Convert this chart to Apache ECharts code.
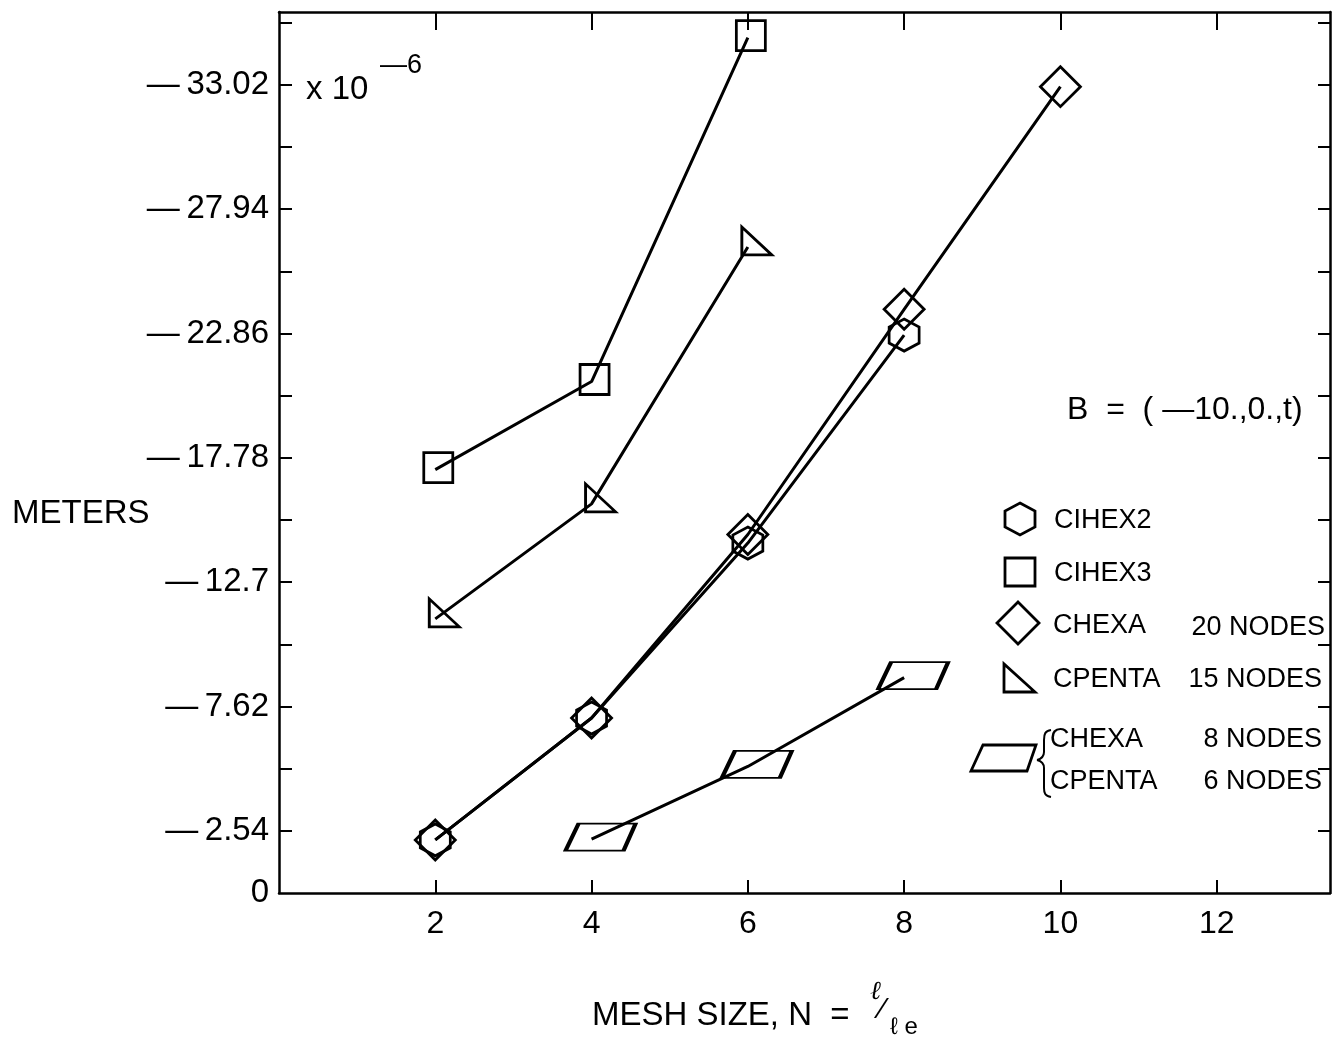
<!DOCTYPE html>
<html>
<head>
<meta charset="utf-8">
<script src="https://cdn.jsdelivr.net/npm/echarts@6/dist/echarts.min.js"></script>
<style>
  html, body { margin: 0; padding: 0; background: #fff; }
  #chart { width: 1332px; height: 1043px; }
</style>
</head>
<body>
<div id="chart"></div>
<script>
// mesh size N and deflection magnitude (x 10^-6 m)
const cihex2X = [2, 4, 6, 8];
const cihex2Y = [2.17, 7.15, 14.3, 22.8];
const cihex3X = [2, 4, 6];
const cihex3Y = [17.3, 20.9, 34.95];
const chexa20X = [2, 4, 6, 8, 10];
const chexa20Y = [2.17, 7.15, 14.65, 23.85, 32.95];
const cpenta15X = [2, 4, 6];
const cpenta15Y = [11.2, 15.9, 26.4];
const lowOrderX = [4, 6, 8];
const lowOrderY = [2.2, 5.17, 8.8];

const xTicks = [2, 4, 6, 8, 10, 12];
const yTicks = [2.54, 5.08, 7.62, 10.16, 12.7, 15.24, 17.78, 20.32, 22.86, 25.4, 27.94, 30.48, 33.02, 35.56];
const yLabelValues = [0, 2.54, 7.62, 12.7, 17.78, 22.86, 27.94, 33.02];
const yLabelTexts = ['0', '—\u20092.54', '—\u20097.62', '—\u200912.7', '—\u200917.78', '—\u200922.86', '—\u200927.94', '—\u200933.02'];

const FONT = '"Liberation Sans", Arial, Helvetica, sans-serif';

function pairs(xs, ys) {
  let res = [];
  xs.forEach(function (x, i) {
    res.push([x, ys[i]]);
  });
  return res;
}

const sym = {
  hexagon: 'path://M15,0 L30,8 L30,24 L15,32 L0,24 L0,8 Z',
  square: 'path://M0,0 L30,0 L30,30 L0,30 Z',
  diamond: 'path://M20,0 L40,20 L20,40 L0,20 Z',
  triangle: 'path://M0,0 L0,28 L30,28 Z',
  parallelogram: 'path://M13,0 L70,0 L58,27 L0,27 Z',
};

function lineSeries(name, data, symbol, size, offset) {
  return {
    name: name,
    type: 'line',
    data: data,
    symbol: symbol,
    symbolSize: size,
    symbolOffset: offset || [0, 0],
    showAllSymbol: true,
    animation: false,
    lineStyle: { color: '#000', width: 3 },
    itemStyle: { color: 'rgba(0,0,0,0)', borderColor: '#000', borderWidth: 2.8 },
    emphasis: { disabled: true },
    z: 3,
  };
}

function txt(x, y, text, size, align) {
  return {
    type: 'text', x: x, y: y,
    style: { text: text, font: size + 'px ' + FONT, fill: '#000', verticalAlign: 'middle', align: align || 'left' },
  };
}

function poly(points) {
  return { type: 'polygon', shape: { points: points }, style: { fill: 'none', stroke: '#000', lineWidth: 2.8 } };
}

function curve(x1, y1, cx1, cy1, cx2, cy2, x2, y2) {
  return {
    type: 'bezierCurve',
    shape: { x1: x1, y1: y1, cpx1: cx1, cpy1: cy1, cpx2: cx2, cpy2: cy2, x2: x2, y2: y2 },
    style: { fill: 'none', stroke: '#000', lineWidth: 2 },
  };
}

const chart = echarts.init(document.getElementById('chart'));

const axisLineStyle = { lineStyle: { color: '#000', width: 2.5 } };
const black = '#000';

chart.setOption({
  backgroundColor: '#fff',
  animation: false,
  grid: { left: 279, right: 2, top: 12, bottom: 150 },
  xAxis: [
    {
      type: 'value',
      min: 0,
      max: 13.45,
      axisLine: Object.assign({ show: true, onZero: false }, axisLineStyle),
      axisTick: { show: true, inside: true, length: 13, customValues: xTicks, lineStyle: { color: black, width: 2 } },
      axisLabel: { customValues: xTicks, margin: 15, color: black, fontSize: 32, fontFamily: FONT },
      splitLine: { show: false },
    },
    {
      type: 'value',
      position: 'top',
      min: 0,
      max: 13.45,
      axisLine: Object.assign({ show: true, onZero: false }, axisLineStyle),
      axisTick: { show: true, inside: true, length: 18, customValues: xTicks, lineStyle: { color: black, width: 2 } },
      axisLabel: { show: false },
      splitLine: { show: false },
    },
  ],
  yAxis: [
    {
      type: 'value',
      min: 0,
      max: 36,
      axisLine: Object.assign({ show: true, onZero: false }, axisLineStyle),
      axisTick: { show: true, inside: true, length: 13, customValues: yTicks, lineStyle: { color: black, width: 2 } },
      axisLabel: {
        customValues: yLabelValues,
        margin: 10,
        color: black,
        fontSize: 33,
        fontFamily: FONT,
        formatter: function (v) {
          for (let i = 0; i < yLabelValues.length; i++) {
            if (Math.abs(yLabelValues[i] - v) < 1e-6) return yLabelTexts[i];
          }
          return '';
        },
      },
      splitLine: { show: false },
    },
    {
      type: 'value',
      position: 'right',
      min: 0,
      max: 36,
      axisLine: Object.assign({ show: true, onZero: false }, axisLineStyle),
      axisTick: { show: true, inside: true, length: 12, customValues: yTicks, lineStyle: { color: black, width: 2 } },
      axisLabel: { show: false },
      splitLine: { show: false },
    },
  ],
  series: [
    lineSeries('CIHEX3', pairs(cihex3X, cihex3Y), sym.square, [29, 30], [3, -2]),
    lineSeries('CPENTA 15 NODES', pairs(cpenta15X, cpenta15Y), sym.triangle, [30, 28], [9, -6]),
    lineSeries('CHEXA 20 NODES', pairs(chexa20X, chexa20Y), sym.diamond, [40, 40]),
    lineSeries('CIHEX2', pairs(cihex2X, cihex2Y), sym.hexagon, [30, 32]),
    lineSeries('CHEXA 8 NODES / CPENTA 6 NODES', pairs(lowOrderX, lowOrderY), sym.parallelogram, [70, 27], [9, -2]),
  ],
  graphic: [
    // axis titles and notes
    txt(12, 514, 'METERS', 33),
    txt(306, 90, 'x 10', 33),
    txt(380, 66, '—6', 27),
    txt(1067, 410, 'B  =  ( —10.,0.,t)', 32),
    txt(592, 1016, 'MESH SIZE, N  =', 33),
    { type: 'text', x: 870, y: 992, style: { text: 'ℓ', font: 'italic 26px "DejaVu Serif", serif', fill: black, verticalAlign: 'middle' } },
    txt(880, 1010, '⁄', 30),
    txt(890, 1027, 'ℓ e', 24),

    // legend keys
    poly([[1020, 503], [1035, 511], [1035, 527], [1020, 535], [1005, 527], [1005, 511]]),
    poly([[1005, 558], [1035, 558], [1035, 586], [1005, 586]]),
    poly([[1018, 602], [1039, 623], [1018, 644], [997, 623]]),
    poly([[1004, 664], [1004, 692], [1035, 692]]),
    poly([[983, 745], [1036, 745], [1027, 771], [971, 771]]),
    // brace
    curve(1051, 730, 1045, 731, 1044, 734, 1044, 740),
    { type: 'line', shape: { x1: 1044, y1: 740, x2: 1044, y2: 752 }, style: { stroke: black, lineWidth: 2 } },
    curve(1044, 752, 1044, 757, 1041, 759, 1037, 760),
    curve(1037, 760, 1041, 761, 1044, 763, 1044, 768),
    { type: 'line', shape: { x1: 1044, y1: 768, x2: 1044, y2: 788 }, style: { stroke: black, lineWidth: 2 } },
    curve(1044, 788, 1044, 793, 1045, 796, 1051, 797),

    // legend labels
    txt(1054, 521, 'CIHEX2', 27),
    txt(1054, 574, 'CIHEX3', 27),
    txt(1053, 626, 'CHEXA', 27),
    txt(1325, 628, '20 NODES', 27, 'right'),
    txt(1053, 680, 'CPENTA', 27),
    txt(1322, 680, '15 NODES', 27, 'right'),
    txt(1050, 740, 'CHEXA', 27),
    txt(1322, 740, '8 NODES', 27, 'right'),
    txt(1050, 782, 'CPENTA', 27),
    txt(1322, 782, '6 NODES', 27, 'right'),
  ],
});
</script>
</body>
</html>
